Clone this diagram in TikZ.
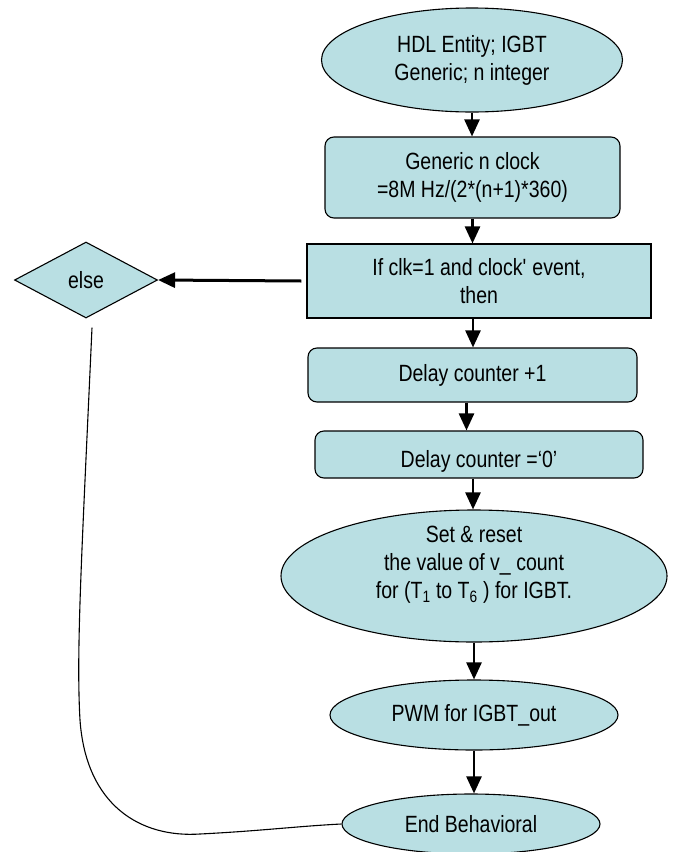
\documentclass[tikz,border=0pt]{standalone}
\usepackage{fontspec}
\setmainfont{Liberation Sans}[FakeStretch=0.83]
\usetikzlibrary{shapes.geometric,arrows.meta}
\definecolor{boxfill}{RGB}{185,223,227}
\begin{document}
\begin{tikzpicture}[x=1pt,y=-1pt,
  every node/.style={font=\fontsize{23.5}{28}\selectfont, align=center, inner sep=0pt},
  shapebase/.style={draw=black, line width=1.1pt, fill=boxfill},
  ellnode/.style={shapebase, ellipse},
  rboxnode/.style={shapebase, rectangle, rounded corners=9pt},
  sboxnode/.style={shapebase, rectangle},
  decnode/.style={shapebase, diamond},
  flowarrow/.style={line width=2.5pt, -{Triangle[length=17pt,width=15pt]}},
  curveline/.style={line width=1.1pt}
]
\useasboundingbox (0,0) rectangle (676,852);

\node[ellnode, minimum width=301pt, minimum height=104pt] (e1) at (472,60)
  {HDL Entity; IGBT\\Generic; n integer};
\node[rboxnode, minimum width=295pt, minimum height=81pt] (b2) at (472.5,177.5)
  {Generic n clock\\=8M Hz/(2*(n+1)*360)};
\node[sboxnode, minimum width=344pt, minimum height=74pt] (b3) at (479,281)
  {If clk=1 and clock\textquotesingle{} event,\\ then};
\node[decnode, minimum width=143pt, minimum height=76pt] (d) at (86,280) {else};
\node[rboxnode, minimum width=329pt, minimum height=54pt] (b4) at (472.5,375)
  {Delay counter +1};
\node[rboxnode, minimum width=328pt, minimum height=47pt] (b5) at (479,454.5) {};
\node (t5) at (479,461) {Delay counter =‘0’};
\node[ellnode, minimum width=386pt, minimum height=132pt] (e3) at (474,576) {};
\node (t3) at (474,565)
  {Set \& reset\\the value of v\_ count\\for (T\textsubscript{1} to T\textsubscript{6} ) for IGBT.};
\node[ellnode, minimum width=288pt, minimum height=70pt] (e4) at (474,715)
  {PWM for IGBT\_out};
\node[ellnode, minimum width=258pt, minimum height=60pt] (e5) at (471,824)
  {End Behavioral};

\draw[flowarrow] (e1.south) -- (e1.south |- b2.north);
\draw[flowarrow] (b2.south) -- (b2.south |- b3.north);
\draw[flowarrow, line width=3pt] ([xshift=-5pt]b3.west) -- (d.east);
\draw[flowarrow] ([xshift=-6pt]b3.south) -- ([xshift=-6pt]b3.south |- b4.north);
\draw[flowarrow] ([xshift=-6pt]b4.south) -- ([xshift=-6pt]b4.south |- b5.north);
\draw[flowarrow] ([xshift=-6pt]b5.south) -- ([xshift=-6pt]b5.south |- e3.north);
\draw[flowarrow] (e3.south) -- (e3.south |- e4.north);
\draw[flowarrow] (e4.south) -- (e4.south |- e5.north);

\draw[curveline] ([xshift=6pt,yshift=-9pt]d.south)
  .. controls (82,550) and (76,650) .. (80,720)
  .. controls (86,805) and (140,838) .. (200,834)
  .. controls (260,831) and (300,826) .. (e5.west);
\end{tikzpicture}
\end{document}
